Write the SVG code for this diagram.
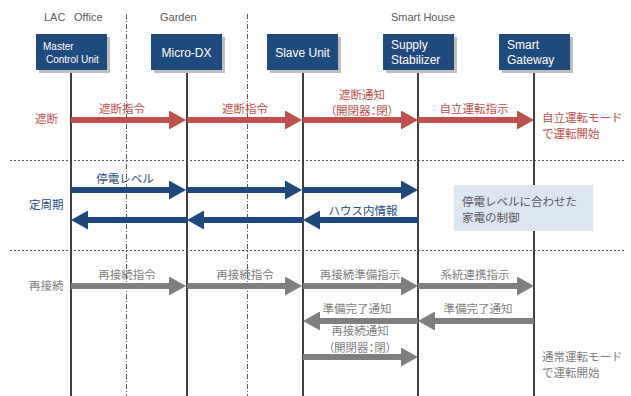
<svg xmlns="http://www.w3.org/2000/svg" width="631" height="396" viewBox="0 0 631 396">
<style>
text{font-family:"Liberation Sans","Noto Sans CJK JP",sans-serif;}
.jp{font-family:"Noto Sans CJK JP","Liberation Sans",sans-serif;font-size:11.5px;}
.p{font-feature-settings:"palt";}
.hdr{font-size:11px;fill:#595959;}
.box{fill:#1f4a7c;}
.shadow{fill:#bfbfbf;}
.bt{fill:#ffffff;font-size:12px;}
.life{stroke:#404040;stroke-width:2;}
.dd{stroke:#595959;stroke-width:1;stroke-dasharray:5,2,1,2;}
.sep{stroke:#595959;stroke-width:1;stroke-dasharray:2,2;}
.red{stroke:#c0504d;stroke-width:6;marker-end:url(#mr);}
.blue{stroke:#1f497d;stroke-width:6;marker-end:url(#mb);}
.gray{stroke:#7f7f7f;stroke-width:6;marker-end:url(#mg);}
.tr{fill:#c0504d;}
.tb{fill:#1f497d;}
.tg{fill:#7f7f7f;}
.tn{fill:#595959;}
.c{text-anchor:middle;}
</style>
<defs>
<marker id="mr" markerUnits="userSpaceOnUse" markerWidth="17" markerHeight="19" refX="1" refY="9.5" orient="auto"><path d="M0,0 L17,9.5 L0,19 z" fill="#c0504d"/></marker>
<marker id="mb" markerUnits="userSpaceOnUse" markerWidth="17" markerHeight="19" refX="1" refY="9.5" orient="auto"><path d="M0,0 L17,9.5 L0,19 z" fill="#1f497d"/></marker>
<marker id="mg" markerUnits="userSpaceOnUse" markerWidth="17" markerHeight="19" refX="1" refY="9.5" orient="auto"><path d="M0,0 L17,9.5 L0,19 z" fill="#7f7f7f"/></marker>
</defs>
<rect width="631" height="396" fill="#ffffff"/>

<g id="zones">
<line class="dd" x1="126.5" y1="14" x2="126.5" y2="396"/>
<line class="dd" x1="247.5" y1="14" x2="247.5" y2="396"/>
<line class="sep" x1="10" y1="160.5" x2="625" y2="160.5"/>
<line class="sep" x1="10" y1="250.5" x2="625" y2="250.5"/>
<text class="hdr" x="44" y="21">LAC</text>
<text class="hdr" x="74" y="21">Office</text>
<text class="hdr" x="160" y="21">Garden</text>
<text class="hdr" x="391" y="21">Smart House</text>
</g>

<g id="lifelines">
<line class="life" x1="71" y1="70" x2="71" y2="396"/>
<line class="life" x1="187" y1="70" x2="187" y2="396"/>
<line class="life" x1="303" y1="70" x2="303" y2="396"/>
<line class="life" x1="418" y1="70" x2="418" y2="396"/>
<line class="life" x1="534" y1="70" x2="534" y2="396"/>
</g>

<g id="master">
<rect class="shadow" x="39" y="37" width="71" height="36"/>
<rect class="box" x="36" y="34" width="71" height="36"/>
<text class="bt" x="43" y="50" style="font-size:10px">Master</text>
<text class="bt" x="46" y="63" style="font-size:10px">Control Unit</text>
</g>
<g id="microdx">
<rect class="shadow" x="154" y="37" width="71" height="36"/>
<rect class="box" x="151" y="34" width="71" height="36"/>
<text class="bt c" x="186.5" y="57">Micro-DX</text>
</g>
<g id="slave">
<rect class="shadow" x="270" y="37" width="71" height="36"/>
<rect class="box" x="267" y="34" width="71" height="36"/>
<text class="bt c" x="302.5" y="57">Slave Unit</text>
</g>
<g id="supply">
<rect class="shadow" x="386" y="37" width="71" height="36"/>
<rect class="box" x="383" y="34" width="71" height="36"/>
<text class="bt" x="391" y="49">Supply</text>
<text class="bt" x="391" y="64">Stabilizer</text>
</g>
<g id="gateway">
<rect class="shadow" x="502" y="37" width="71" height="36"/>
<rect class="box" x="499" y="34" width="71" height="36"/>
<text class="bt" x="507" y="49">Smart</text>
<text class="bt" x="507" y="64">Gateway</text>
</g>

<g id="connectors">
<line class="red" x1="71" y1="120" x2="170" y2="120"/>
<line class="red" x1="187" y1="120" x2="286" y2="120"/>
<line class="red" x1="303" y1="120" x2="402" y2="120"/>
<line class="red" x1="418" y1="120" x2="518" y2="120"/>

<line class="blue" x1="71" y1="190" x2="170" y2="190"/>
<line class="blue" x1="187" y1="190" x2="286" y2="190"/>
<line class="blue" x1="303" y1="190" x2="402" y2="190"/>
<line class="blue" x1="187" y1="220" x2="87" y2="220"/>
<line class="blue" x1="303" y1="220" x2="203" y2="220"/>
<line class="blue" x1="418" y1="220" x2="319" y2="220"/>

<line class="gray" x1="71" y1="286" x2="170" y2="286"/>
<line class="gray" x1="187" y1="286" x2="286" y2="286"/>
<line class="gray" x1="303" y1="286" x2="402" y2="286"/>
<line class="gray" x1="418" y1="286" x2="518" y2="286"/>
<line class="gray" x1="534" y1="321" x2="434" y2="321"/>
<line class="gray" x1="418" y1="321" x2="319" y2="321"/>
<line class="gray" x1="303" y1="357" x2="402" y2="357"/>
</g>

<g id="labels">
<text class="jp tr" x="35" y="123">遮断</text>
<text class="jp tr c" x="122" y="113">遮断指令</text>
<text class="jp tr c" x="245" y="113">遮断指令</text>
<text class="jp tr c" x="362" y="99">遮断通知</text>
<text class="jp tr c p" x="362" y="115">（開閉器：閉）</text>
<text class="jp tr c" x="474" y="113">自立運転指示</text>
<text class="jp tr" x="542" y="122">自立運転モード</text>
<text class="jp tr" x="542" y="138">で運転開始</text>

<text class="jp tb c" x="125" y="183">停電レベル</text>
<text class="jp tb" x="29" y="209">定周期</text>
<text class="jp tb c" x="363" y="215">ハウス内情報</text>

<text class="jp tg" x="29" y="290">再接続</text>
<text class="jp tg c" x="127" y="279">再接続指令</text>
<text class="jp tg c" x="245" y="279">再接続指令</text>
<text class="jp tg c" x="360" y="279">再接続準備指示</text>
<text class="jp tg c" x="475" y="279">系統連携指示</text>
<text class="jp tg c" x="357" y="313">準備完了通知</text>
<text class="jp tg c" x="478" y="313">準備完了通知</text>
<text class="jp tg c" x="360" y="335">再接続通知</text>
<text class="jp tg c p" x="360" y="352">（開閉器：閉）</text>
<text class="jp tg" x="542" y="361">通常運転モード</text>
<text class="jp tg" x="542" y="377">で運転開始</text>
</g>

<g id="note">
<rect x="454" y="185" width="139" height="46" fill="#dce6f2"/>
<text class="jp tn" x="462" y="206">停電レベルに合わせた</text>
<text class="jp tn" x="462" y="222">家電の制御</text>
</g>
</svg>
